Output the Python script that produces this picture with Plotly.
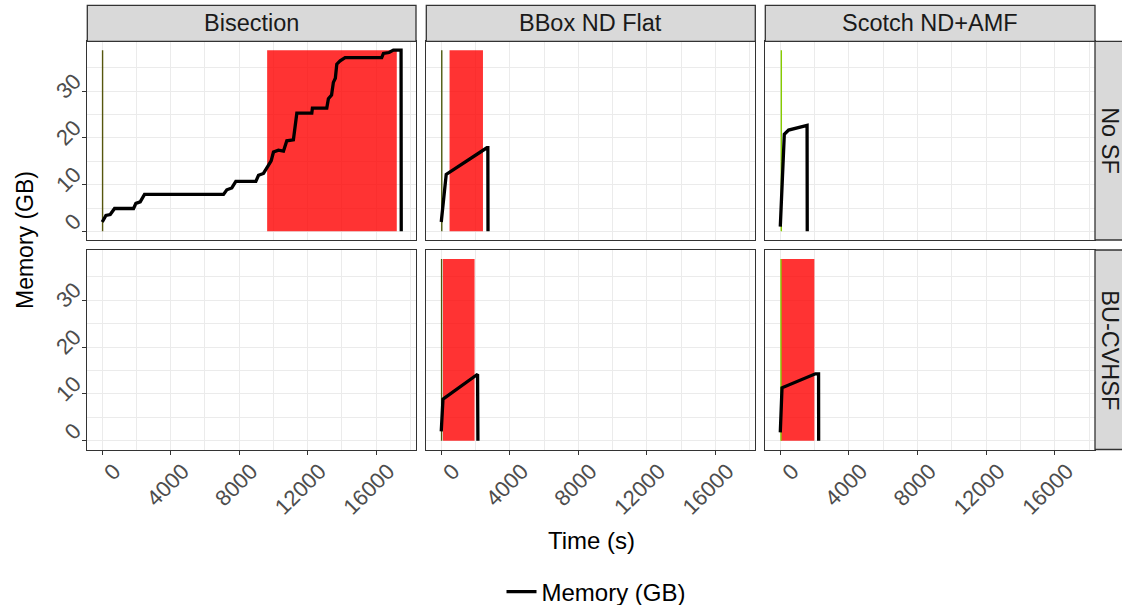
import plotly.graph_objects as go

# ---------------- data ----------------
methods = ["Bisection", "BBox ND Flat", "Scotch ND+AMF"]
filters = ["No SF", "BU-CVHSF"]

# memory traces (time s, memory GB)
bis_nosf_t = [0, 80, 215, 467, 720, 1830, 1965, 2220, 2470, 7085, 7280, 7570, 7805, 8975,
              9130, 9420, 9615, 9870, 10005, 10295, 10590, 10785, 11170, 11370, 12245,
              12280, 13120, 13215, 13400, 13505, 13620, 13705, 13900, 14190, 16330, 16430,
              16760, 17010, 17460, 17470]
bis_nosf_m = [2.0, 2.6, 3.4, 3.6, 4.9, 4.9, 6.0, 6.3, 7.9, 7.9, 8.9, 9.3, 10.7, 10.7,
              12.0, 12.4, 13.6, 15.1, 17.0, 17.4, 17.2, 19.4, 19.6, 25.3, 25.3,
              26.4, 26.4, 28.4, 29.2, 31.9, 32.8, 35.8, 36.5, 37.2, 37.2, 38.1,
              38.3, 38.8, 38.8, 0.0]

bbox_nosf_t = [0, 290, 2665, 2720, 2730]
bbox_nosf_m = [2.0, 12.2, 17.9, 17.9, 0.0]

scotch_nosf_t = [0, 235, 485, 1560, 1570]
scotch_nosf_m = [1.0, 20.8, 21.7, 22.7, 0.0]

bbox_cvhsf_t = [0, 100, 2120, 2140]
bbox_cvhsf_m = [2.0, 8.9, 14.2, 0.0]

scotch_cvhsf_t = [0, 100, 2045, 2230, 2235]
scotch_cvhsf_m = [1.8, 11.3, 14.3, 14.3, 0.0]

# red shaded intervals (start, end) per panel; None = no interval
red_intervals = {
    (0, 0): (9635, 17210),
    (0, 1): (485, 2435),
    (0, 2): None,
    (1, 0): None,
    (1, 1): (100, 1945),
    (1, 2): (40, 1985),
}
# marker vertical lines (time) per panel
vline_times = {
    (0, 0): 20, (0, 1): 30, (0, 2): 60,
    (1, 0): None, (1, 1): 20, (1, 2): 40,
}
vline_colors = {0: "#56560E", 1: "#4E5A10", 2: "#86CC00"}

mem_series = {
    (0, 0): (bis_nosf_t, bis_nosf_m),
    (0, 1): (bbox_nosf_t, bbox_nosf_m),
    (0, 2): (scotch_nosf_t, scotch_nosf_m),
    (1, 0): None,
    (1, 1): (bbox_cvhsf_t, bbox_cvhsf_m),
    (1, 2): (scotch_cvhsf_t, scotch_cvhsf_m),
}

x_ticks = [0, 4000, 8000, 12000, 16000]
y_ticks = [0, 10, 20, 30]

# ---------------- layout helpers ----------------
W, H = 1122, 605
def px(x):
    return x / W
def py(y):
    return 1 - y / H

col_px = [(87.3, 416.0), (426.3, 755.3), (765.3, 1095.0)]
row_px = [(41.3, 240.0), (250.0, 449.5)]

all_mem = [m for s in mem_series.values() if s for m in s[1]]
ymax = max(all_mem)

XR = [-873, 18333]
YR = [-1.85, 40.7]

FONT = "Liberation Sans, Arial, Helvetica, sans-serif"

fig = go.Figure()
layout = dict(
    width=W, height=H,
    margin=dict(l=0, r=0, t=0, b=0, autoexpand=False),
    paper_bgcolor="white", plot_bgcolor="white",
    font=dict(family=FONT, color="#1A1A1A"),
    showlegend=True,
    legend=dict(orientation="h", x=px(596), xanchor="center", y=py(592), yanchor="middle",
                font=dict(size=24, color="#000000"), bgcolor="rgba(0,0,0,0)",
                itemwidth=30),
)

shapes = []
annotations = []
legend_shown = False

for r in range(2):
    for c in range(3):
        idx = r * 3 + c + 1
        xa = "x" if idx == 1 else f"x{idx}"
        ya = "y" if idx == 1 else f"y{idx}"
        xkey = "xaxis" if idx == 1 else f"xaxis{idx}"
        ykey = "yaxis" if idx == 1 else f"yaxis{idx}"
        bottom = (r == 1)
        left = (c == 0)
        layout[xkey] = dict(
            domain=[px(col_px[c][0]), px(col_px[c][1])],
            anchor=ya, range=XR, tickmode="array", tickvals=x_ticks,
            ticktext=[str(v) for v in x_ticks],
            showgrid=True, gridcolor="#EBEBEB", gridwidth=1.3,
            minor=dict(tickmode="array", tickvals=[-2000, 2000, 6000, 10000, 14000, 18000],
                       showgrid=True, gridcolor="#EBEBEB", gridwidth=0.8, ticks=""),
            zeroline=False, showline=True, linecolor="#333333", linewidth=1.3, mirror=True,
            ticks="outside" if bottom else "", ticklen=4, tickcolor="#333333", tickwidth=1.1,
            showticklabels=bottom, tickangle=-45, automargin=False,
            ticklabelshift=12, ticklabelstandoff=-5,
            tickfont=dict(size=22, color="#4D4D4D", family=FONT),
            fixedrange=True,
        )
        layout[ykey] = dict(
            domain=[py(row_px[r][1]), py(row_px[r][0])],
            anchor=xa, range=YR, tickmode="array", tickvals=y_ticks,
            ticktext=[str(v) for v in y_ticks],
            showgrid=True, gridcolor="#EBEBEB", gridwidth=1.3,
            minor=dict(tickmode="array", tickvals=[5, 15, 25, 35],
                       showgrid=True, gridcolor="#EBEBEB", gridwidth=0.8, ticks=""),
            zeroline=False, showline=True, linecolor="#333333", linewidth=1.3, mirror=True,
            ticks="outside" if left else "", ticklen=4, tickcolor="#333333", tickwidth=1.1,
            showticklabels=left, tickangle=-45, automargin=False,
            ticklabelshift=-13, ticklabelstandoff=3,
            tickfont=dict(size=22, color="#4D4D4D", family=FONT),
            fixedrange=True,
        )

        # red interval
        iv = red_intervals[(r, c)]
        if iv is not None:
            fig.add_trace(go.Scatter(
                x=[iv[0], iv[1], iv[1], iv[0], iv[0]], y=[0, 0, ymax, ymax, 0],
                mode="lines", fill="toself", fillcolor="rgba(255,0,0,0.8)",
                line=dict(width=0, color="rgba(255,0,0,0)"), showlegend=False,
                hoverinfo="skip", xaxis=xa, yaxis=ya))
        # marker vertical line
        vt = vline_times[(r, c)]
        if vt is not None:
            fig.add_trace(go.Scatter(
                x=[vt, vt], y=[0, ymax], mode="lines",
                line=dict(width=1.4, color=vline_colors[c]), showlegend=False,
                hoverinfo="skip", xaxis=xa, yaxis=ya))
        # memory line
        s = mem_series[(r, c)]
        if s is not None:
            fig.add_trace(go.Scatter(
                x=s[0], y=s[1], mode="lines", name="Memory (GB)",
                line=dict(width=3.3, color="black"),
                showlegend=not legend_shown, legendgroup="mem",
                xaxis=xa, yaxis=ya))
            legend_shown = True
        else:
            # empty panel: invisible placeholder so the axes are drawn
            fig.add_trace(go.Scatter(
                x=[None], y=[None], mode="lines", showlegend=False,
                hoverinfo="skip", xaxis=xa, yaxis=ya))

# top strips
for c, name in enumerate(methods):
    shapes.append(dict(type="rect", xref="paper", yref="paper",
                       x0=px(col_px[c][0]), x1=px(col_px[c][1]),
                       y0=py(41.3), y1=py(5.3),
                       fillcolor="#D9D9D9", line=dict(color="#333333", width=1.3)))
    annotations.append(dict(text=name, xref="paper", yref="paper",
                            x=px((col_px[c][0] + col_px[c][1]) / 2), y=py(23.3),
                            xanchor="center", yanchor="middle", showarrow=False,
                            font=dict(size=23.5, color="#1A1A1A", family=FONT)))
# right strips
for r, name in enumerate(filters):
    shapes.append(dict(type="rect", xref="paper", yref="paper",
                       x0=px(1095.0), x1=px(1131.0),
                       y0=py(row_px[r][1]), y1=py(row_px[r][0]),
                       fillcolor="#D9D9D9", line=dict(color="#333333", width=1.3)))
    annotations.append(dict(text=name, xref="paper", yref="paper",
                            x=px(1110.5), y=py((row_px[r][0] + row_px[r][1]) / 2),
                            xanchor="center", yanchor="middle", showarrow=False,
                            textangle=90,
                            font=dict(size=23.5, color="#1A1A1A", family=FONT)))

# axis titles
annotations.append(dict(text="Time (s)", xref="paper", yref="paper",
                        x=px(591), y=py(540), xanchor="center", yanchor="middle",
                        showarrow=False, font=dict(size=24, color="#000000", family=FONT)))
annotations.append(dict(text="Memory (GB)", xref="paper", yref="paper",
                        x=px(25), y=py(240), xanchor="center", yanchor="middle",
                        textangle=-90, showarrow=False,
                        font=dict(size=23, color="#000000", family=FONT)))

layout["shapes"] = shapes
layout["annotations"] = annotations
fig.update_layout(**layout)

fig.write_html(
    "out.html",
    config={"displayModeBar": False},
    post_script="document.body.style.margin='0px';document.body.style.overflow='hidden';",
)
